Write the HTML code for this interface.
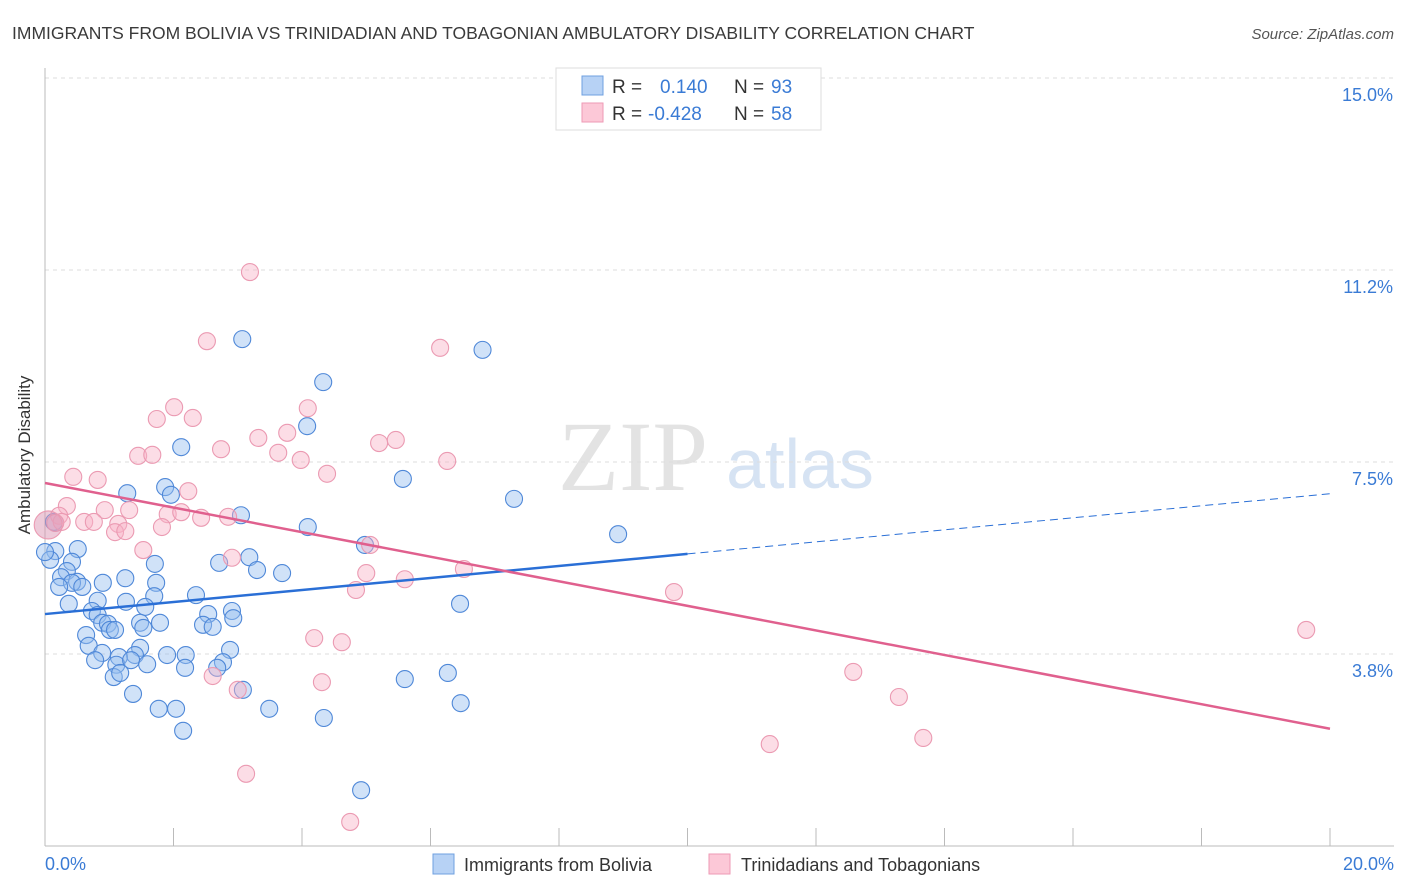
<!DOCTYPE html>
<html><head><meta charset="utf-8">
<style>
body{margin:0;background:#fff;font-family:"Liberation Sans",sans-serif;}
svg{display:block}
</style></head>
<body>
<svg id="chart" width="1406" height="892">
<text x="12" y="39" font-size="17.5" fill="#3a3a3a">IMMIGRANTS FROM BOLIVIA VS TRINIDADIAN AND TOBAGONIAN AMBULATORY DISABILITY CORRELATION CHART</text>
<text x="1394" y="39" font-size="15" fill="#555" font-style="italic" text-anchor="end">Source: ZipAtlas.com</text>
<text x="633" y="490" font-size="100" fill="#e3e3e3" font-family="Liberation Serif,serif" text-anchor="middle">ZIP</text>
<text x="800" y="488" font-size="70" fill="#d6e3f3" text-anchor="middle">atlas</text>
<g id="grid"></g>
<g id="axes"></g>
<g id="points"></g>
<g id="lines"></g>
<text x="30" y="455" font-size="17" fill="#333" text-anchor="middle" transform="rotate(-90 30 455)">Ambulatory Disability</text>
<g>
<rect x="556" y="68" width="265" height="62" fill="#fff" stroke="#ddd"/>
<rect x="582" y="76" width="21" height="19" fill="#b7d2f5" stroke="#6fa0e0"/>
<rect x="582" y="103" width="21" height="19" fill="#fcc8d7" stroke="#ee9ab5"/>
<text x="612" y="93" font-size="19" fill="#333">R =</text>
<text x="660" y="93" font-size="19" fill="#3a7bd5">0.140</text>
<text x="734" y="93" font-size="19" fill="#333">N =</text>
<text x="771" y="93" font-size="19" fill="#3a7bd5">93</text>
<text x="612" y="120" font-size="19" fill="#333">R =</text>
<text x="648" y="120" font-size="19" fill="#3a7bd5">-0.428</text>
<text x="734" y="120" font-size="19" fill="#333">N =</text>
<text x="771" y="120" font-size="19" fill="#3a7bd5">58</text>
</g>
<g>
<rect x="433" y="854" width="21" height="20" fill="#b7d2f5" stroke="#6fa0e0"/>
<text x="464" y="871" font-size="18" fill="#333">Immigrants from Bolivia</text>
<rect x="709" y="854" width="21" height="20" fill="#fcc8d7" stroke="#ee9ab5"/>
<text x="741" y="871" font-size="18" fill="#333">Trinidadians and Tobagonians</text>
</g>
<text x="45" y="870" font-size="18" fill="#3a7bd5">0.0%</text>
<text x="1394" y="870" font-size="18" fill="#3a7bd5" text-anchor="end">20.0%</text>
</svg>
<script>
const yTicks=[3.75,7.5,11.25,15];
const yTickLabels=["3.8%","7.5%","11.2%","15.0%"];
const xTicks=[0,2,4,6,8,10,12,14,16,18,20];
const blueX=[3.07,6.81,4.33,4.08,2.12,5.57,7.30,1.28,1.87,1.96,3.05,4.09,8.92,0.14,4.98,0.51,0.16,0.08,2.71,3.18,0.42,1.71,0.34,3.30,3.69,1.25,0.25,0.50,1.73,0.90,0.42,0.58,0.22,2.35,1.70,1.26,0.82,0.37,6.46,1.56,2.54,0.73,2.91,0.82,2.93,0.89,1.48,0.98,1.79,2.46,2.61,1.01,1.09,1.53,0.64,0.68,1.48,0.89,2.19,2.88,1.90,1.40,1.15,0.78,1.11,1.34,1.59,2.77,2.18,2.68,1.07,1.17,6.27,5.60,1.37,3.08,6.47,1.77,2.04,3.49,4.34,2.15,4.92,0.0];
const blueY=[9.90,9.69,9.06,8.20,7.79,7.17,6.78,6.89,7.01,6.86,6.46,6.23,6.09,6.33,5.88,5.80,5.76,5.59,5.53,5.64,5.55,5.51,5.37,5.39,5.33,5.23,5.25,5.16,5.14,5.14,5.14,5.06,5.06,4.90,4.88,4.77,4.79,4.73,4.73,4.67,4.53,4.59,4.59,4.51,4.45,4.36,4.36,4.34,4.36,4.32,4.28,4.22,4.22,4.26,4.12,3.91,3.87,3.77,3.73,3.83,3.73,3.73,3.69,3.63,3.54,3.63,3.55,3.59,3.48,3.48,3.30,3.38,3.38,3.26,2.97,3.05,2.79,2.68,2.68,2.68,2.50,2.25,1.09,5.74];
const pinkX=[3.19,2.52,6.15,2.01,4.09,1.74,2.30,3.32,3.77,5.20,5.46,2.74,1.45,1.67,3.63,3.98,6.26,0.44,0.82,4.39,2.23,0.34,0.93,1.31,0.22,1.91,2.12,0.26,0.61,0.76,1.14,2.85,2.43,0.16,1.09,1.25,1.82,5.06,1.53,2.91,6.52,5.00,5.60,4.84,9.79,4.19,4.62,19.63,2.61,4.31,3.00,12.58,13.29,13.67,11.28,3.13,4.75];
const pinkY=[11.21,9.86,9.73,8.57,8.55,8.34,8.36,7.97,8.07,7.87,7.93,7.75,7.62,7.64,7.68,7.54,7.52,7.21,7.15,7.27,6.93,6.64,6.56,6.56,6.45,6.48,6.52,6.33,6.33,6.33,6.29,6.43,6.41,6.31,6.13,6.15,6.23,5.88,5.78,5.63,5.41,5.33,5.21,5.00,4.96,4.06,3.98,4.22,3.32,3.20,3.05,3.40,2.91,2.11,1.99,1.41,0.47];
const bigPinkX=[0.05], bigPinkY=[6.27];
const blueTrend=[4.53,6.88]; // y at x=0 and x=20
const pinkTrend=[7.09,2.29];
const X0=45,X1=1330,YB=846,PPU=51.2;
const sx=v=>X0+(X1-X0)*v/20, sy=v=>YB-v*PPU;
const NS="http://www.w3.org/2000/svg";
function mk(tag,attrs,parent){const e=document.createElementNS(NS,tag);for(const k in attrs)e.setAttribute(k,attrs[k]);parent.appendChild(e);return e;}
const grid=document.getElementById('grid'),axes=document.getElementById('axes'),pts=document.getElementById('points'),lines=document.getElementById('lines');
yTicks.forEach((t,i)=>{
 const l=mk('line',{x1:X0,x2:1394,y1:sy(t),y2:sy(t),stroke:'#ddd','stroke-dasharray':'4,4'},grid);
 
 
 const tx=mk('text',{x:1393,y:sy(t)+23,'font-size':18,fill:'#3a7bd5','text-anchor':'end'},grid);
 tx.textContent=yTickLabels[i];
 
 
});
const t15=mk('line',{x1:X0,x2:1394,y1:sy(15),y2:sy(15),stroke:'#ddd','stroke-dasharray':'4,4'},grid);
const ya=mk('line',{x1:X0,x2:X0,y1:68,y2:YB,stroke:'#bbb'},axes);


const xa=mk('line',{x1:X0,x2:1394,y1:YB,y2:YB,stroke:'#bbb'},axes);


xTicks.forEach(t=>{
 const l=mk('line',{x1:sx(t),x2:sx(t),y1:YB,y2:YB-18,stroke:'#bbb'},axes);
 
 
});
blueX.forEach((x,i)=>{
 const c=mk('circle',{cx:sx(x),cy:sy(blueY[i]),r:8.5,fill:'rgba(150,190,240,0.45)',stroke:'#4f88d8','stroke-width':1.1},pts);
 
 
});
pinkX.forEach((x,i)=>{
 const c=mk('circle',{cx:sx(x),cy:sy(pinkY[i]),r:8.5,fill:'rgba(248,180,200,0.45)',stroke:'#eb9ab2','stroke-width':1.1},pts);
 
 
});
bigPinkX.forEach((x,i)=>{
 const c=mk('circle',{cx:sx(x),cy:sy(bigPinkY[i]),r:14,fill:'rgba(220,150,180,0.5)',stroke:'#eb9ab2','stroke-width':1.1},pts);
 
 
});
const bmid=blueTrend[0]+(blueTrend[1]-blueTrend[0])*10/20;
const bl=mk('line',{x1:sx(0),y1:sy(blueTrend[0]),x2:sx(10),y2:sy(bmid),stroke:'#2a6fd6','stroke-width':2.5},lines);


const bd=mk('line',{x1:sx(10),y1:sy(bmid),x2:sx(20),y2:sy(blueTrend[1]),stroke:'#2a6fd6','stroke-width':1,'stroke-dasharray':'8,5'},lines);


const pl=mk('line',{x1:sx(0),y1:sy(pinkTrend[0]),x2:sx(20),y2:sy(pinkTrend[1]),stroke:'#e0608e','stroke-width':2.5},lines);


</script>
</body></html>
